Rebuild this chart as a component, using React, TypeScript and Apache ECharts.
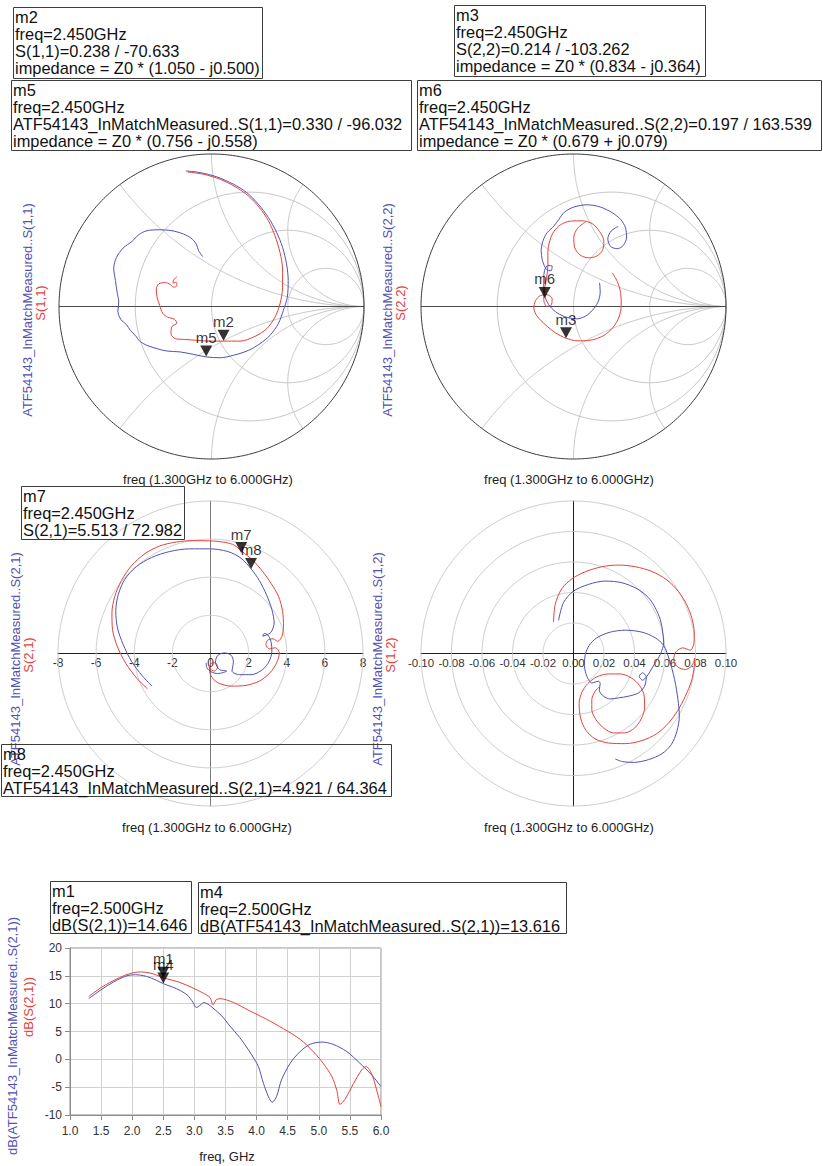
import React, { useEffect, useRef } from "react";
import * as echarts from "echarts";

type P = [number, number];

const FONT = "Liberation Sans, Arial, Helvetica, sans-serif";
const BLUE = "#5151b3";
const RED = "#e5423c";
const GRID_GRAY = "#c6c6c6";

// ---------- Smith chart 1: S(1,1), reflection coefficient (re, im) ----------
const s11Measured: P[] = [
  [-0.168, 0.889], [-0.074, 0.878], [0.035, 0.85], [0.144, 0.802], [0.231, 0.747], [0.307, 0.671],
  [0.373, 0.584], [0.427, 0.486], [0.466, 0.388], [0.492, 0.279], [0.503, 0.17], [0.497, 0.061],
  [0.471, -0.026], [0.438, -0.113], [0.383, -0.19], [0.318, -0.244], [0.242, -0.288], [0.144, -0.32],
  [0.057, -0.336], [-0.031, -0.331], [-0.118, -0.314], [-0.205, -0.298], [-0.292, -0.292], [-0.357, -0.277],
  [-0.423, -0.255], [-0.471, -0.227], [-0.499, -0.19], [-0.532, -0.157], [-0.558, -0.118], [-0.593, -0.087],
  [-0.614, -0.031], [-0.608, 0.028], [-0.619, 0.094], [-0.63, 0.17], [-0.641, 0.253], [-0.623, 0.322],
  [-0.58, 0.383], [-0.521, 0.427], [-0.477, 0.471], [-0.423, 0.497], [-0.346, 0.503], [-0.259, 0.497],
  [-0.183, 0.475], [-0.135, 0.449], [-0.1, 0.41], [-0.085, 0.366], [-0.057, 0.327],
];
const s11Simulated: P[] = [
  [-0.157, 0.882], [-0.052, 0.867], [0.057, 0.834], [0.155, 0.786], [0.242, 0.725], [0.314, 0.649],
  [0.373, 0.562], [0.416, 0.464], [0.449, 0.355], [0.466, 0.246], [0.466, 0.126], [0.449, 0.017],
  [0.416, -0.07], [0.362, -0.146], [0.285, -0.196], [0.187, -0.227], [0.078, -0.227], [-0.009, -0.227],
  [-0.096, -0.222], [-0.172, -0.216], [-0.237, -0.211], [-0.266, -0.179], [-0.259, -0.131], [-0.227, -0.109],
  [-0.244, -0.083], [-0.288, -0.07], [-0.32, -0.044], [-0.34, 0.007], [-0.357, 0.061], [-0.362, 0.115],
  [-0.346, 0.148], [-0.303, 0.157], [-0.27, 0.144], [-0.248, 0.126], [-0.227, 0.137], [-0.231, 0.159],
  [-0.253, 0.153], [-0.248, 0.174], [-0.227, 0.196],
];

// ---------- Smith chart 2: S(2,2) ----------
const s22Measured: P[] = [
  [0.171, 0.155], [0.175, 0.094], [0.16, 0.028], [0.123, -0.026], [0.079, -0.063], [0.024, -0.081],
  [-0.042, -0.072], [-0.107, -0.042], [-0.155, 0.002], [-0.184, 0.055], [-0.195, 0.116], [-0.195, 0.182],
  [-0.19, 0.236], [-0.168, 0.269], [-0.14, 0.265], [-0.147, 0.234], [-0.177, 0.243], [-0.204, 0.302],
  [-0.212, 0.368], [-0.199, 0.433], [-0.173, 0.484], [-0.129, 0.527], [-0.096, 0.571], [-0.059, 0.619],
  [0.002, 0.652], [0.09, 0.667], [0.177, 0.652], [0.254, 0.615], [0.309, 0.571], [0.341, 0.516],
  [0.348, 0.455], [0.326, 0.4], [0.287, 0.379], [0.243, 0.394], [0.225, 0.444], [0.247, 0.495], [0.293, 0.525],
];
const s22Simulated: P[] = [
  [0.254, 0.221], [0.287, 0.164], [0.309, 0.09], [0.313, 0.007], [0.298, -0.07], [0.26, -0.136],
  [0.199, -0.19], [0.112, -0.221], [0.024, -0.225], [-0.048, -0.208], [-0.118, -0.173], [-0.184, -0.12],
  [-0.239, -0.063], [-0.26, -0.011], [-0.249, 0.039], [-0.217, 0.072], [-0.173, 0.077], [-0.14, 0.05],
  [-0.147, 0.007], [-0.177, 0.002], [-0.195, 0.046], [-0.19, 0.116], [-0.177, 0.182], [-0.168, 0.269],
  [-0.168, 0.357], [-0.155, 0.433], [-0.129, 0.492], [-0.085, 0.536], [-0.02, 0.56], [0.057, 0.562],
  [0.123, 0.543], [0.171, 0.492], [0.199, 0.427], [0.19, 0.368], [0.151, 0.33], [0.096, 0.319],
  [0.042, 0.339], [0.007, 0.389], [0.002, 0.455], [0.028, 0.514], [0.079, 0.554],
];

// ---------- Polar: S(2,1) ----------
const s21Simulated: P[] = [
  [-3.31, -1.85], [-3.85, -1.32], [-4.44, -0.52], [-4.88, 0.35], [-5.14, 1.25], [-5.17, 2.13],
  [-5.02, 3.0], [-4.67, 3.83], [-4.15, 4.6], [-3.45, 5.23], [-2.67, 5.64], [-1.79, 5.85],
  [-0.92, 5.92], [-0.05, 5.91], [0.82, 5.82], [1.25, 5.68], [1.64, 5.36], [2.21, 4.9],
  [2.74, 4.3], [3.17, 3.69], [3.57, 3.0], [3.78, 2.21], [3.83, 1.43], [3.75, 0.91],
  [3.52, 0.64], [3.29, 0.77], [3.0, 0.7], [2.91, 0.47], [3.08, 0.24], [3.4, 0.3],
  [3.61, 0.03], [3.47, -0.49], [3.12, -1.01], [2.56, -1.45], [1.86, -1.67], [1.08, -1.71],
  [0.38, -1.53], [0.03, -1.18], [-0.05, -0.84], [0.03, -0.52], [0.24, -0.49], [0.38, -0.7],
  [0.21, -0.92], [0.02, -0.85], [-0.09, -0.63],
];
const s21Measured: P[] = [
  [-3.07, -1.71], [-3.57, -1.18], [-4.15, -0.4], [-4.58, 0.47], [-4.88, 1.34], [-4.97, 2.21],
  [-4.84, 3.08], [-4.49, 3.9], [-3.89, 4.56], [-3.1, 5.03], [-2.14, 5.35], [-1.1, 5.49],
  [-0.05, 5.49], [0.91, 5.35], [1.6, 5.0], [2.13, 4.44], [2.56, 3.83], [2.94, 3.08],
  [3.22, 2.3], [3.34, 1.6], [3.17, 1.11], [2.91, 0.96], [2.74, 0.91], [2.82, 1.05],
  [3.0, 0.98], [3.17, 0.64], [3.22, 0.12], [3.08, -0.4], [2.74, -0.84], [2.13, -1.11],
  [1.52, -1.11], [1.13, -0.92], [1.2, -0.45], [1.08, -0.09], [0.73, 0.03], [0.38, -0.1],
  [0.26, -0.45], [0.47, -0.84], [0.85, -0.92], [0.38, -1.05], [0.03, -0.96], [-0.19, -0.75], [-0.23, -0.49],
];

// ---------- Polar: S(1,2) ----------
const s12Simulated: P[] = [
  [-0.0131, 0.0206], [-0.012, 0.0322], [-0.0077, 0.0425], [-0.0007, 0.0492], [0.0077, 0.0536], [0.0186, 0.0569],
  [0.0295, 0.058], [0.0405, 0.0569], [0.0514, 0.0538], [0.0613, 0.0482], [0.0689, 0.0405], [0.0744, 0.0317],
  [0.0777, 0.0228], [0.0792, 0.0136], [0.0788, 0.0059], [0.0766, 0.0022], [0.0716, 0.0037], [0.0672, 0.0011],
  [0.0657, -0.0039], [0.0683, -0.0088], [0.0733, -0.0105], [0.0777, -0.0079], [0.0794, -0.0031], [0.0792, -0.0083],
  [0.0773, -0.0182], [0.0733, -0.028], [0.0685, -0.0372], [0.0624, -0.0455], [0.0547, -0.0525], [0.0449, -0.0571],
  [0.0339, -0.0591], [0.023, -0.0587], [0.0142, -0.056], [0.0081, -0.0503], [0.0046, -0.0422], [0.0037, -0.0328],
  [0.0055, -0.0254], [0.0094, -0.0197], [0.0153, -0.0153], [0.023, -0.0134], [0.0306, -0.0134], [0.0379, -0.016],
  [0.0433, -0.021], [0.0464, -0.028], [0.0466, -0.0357], [0.0444, -0.0429], [0.0401, -0.0488], [0.0335, -0.0521],
  [0.0263, -0.0521], [0.0197, -0.0488], [0.0147, -0.0433], [0.012, -0.0368], [0.012, -0.0302], [0.0142, -0.0247],
  [0.0169, -0.0219],
];
const s12Measured: P[] = [
  [-0.0098, 0.0217], [-0.0066, 0.0333], [0.0, 0.0409], [0.0098, 0.0453], [0.0208, 0.0475], [0.0317, 0.0464],
  [0.0416, 0.0425], [0.0492, 0.0366], [0.0536, 0.03], [0.0569, 0.0223], [0.0584, 0.0147], [0.0591, 0.007],
  [0.0569, -0.0007], [0.0536, -0.0061], [0.0503, -0.0116], [0.0482, -0.0149], [0.0453, -0.0175], [0.0431, -0.0149],
  [0.0453, -0.0127], [0.0477, -0.0153], [0.0466, -0.0214], [0.0427, -0.0258], [0.0361, -0.028], [0.0295, -0.0291],
  [0.0241, -0.0298], [0.0197, -0.028], [0.0169, -0.0241], [0.0175, -0.0197], [0.0164, -0.0182], [0.012, -0.0193],
  [0.0088, -0.0149], [0.0072, -0.0079], [0.0077, -0.0007], [0.0103, 0.0053], [0.0153, 0.0103], [0.0241, 0.014],
  [0.0339, 0.0153], [0.0449, 0.014], [0.0536, 0.0103], [0.0591, 0.0053], [0.0628, -0.0039], [0.0663, -0.0171],
  [0.0685, -0.0302], [0.0694, -0.0411], [0.0678, -0.051], [0.0641, -0.0598], [0.058, -0.0657], [0.0492, -0.0696],
  [0.0394, -0.0714], [0.0322, -0.0709], [0.0274, -0.0692],
];

// ---------- dB(S(2,1)) vs freq (GHz) ----------
const dbS21Simulated: P[] = [
  [1.3, 11.3], [1.4, 12.1], [1.5, 12.9], [1.64, 13.8], [1.8, 14.7], [1.96, 15.4], [2.13, 15.7], [2.29, 15.5],
  [2.4, 15.1], [2.5, 14.65], [2.77, 13.8], [2.98, 12.8], [3.14, 11.9], [3.25, 11.1], [3.3, 9.8], [3.35, 10.7],
  [3.41, 10.9], [3.63, 10.2], [3.89, 8.7], [4.16, 7.2], [4.43, 5.5], [4.7, 3.6], [4.91, 1.4], [5.07, -0.7],
  [5.21, -3.1], [5.29, -5.6], [5.34, -8.1], [5.42, -7.2], [5.56, -4.3], [5.69, -1.9], [5.76, -1.3], [5.85, -2.6],
  [5.93, -5.5], [6.0, -8.5],
];
const dbS21Measured: P[] = [
  [1.3, 10.9], [1.4, 11.7], [1.5, 12.5], [1.7, 13.9], [1.91, 15.0], [2.05, 15.2], [2.23, 14.9], [2.39, 14.2],
  [2.5, 13.6], [2.71, 12.7], [2.88, 11.6], [2.98, 10.2], [3.03, 9.3], [3.09, 9.7], [3.15, 10.2], [3.22, 9.9],
  [3.3, 9.2], [3.44, 7.8], [3.57, 6.0], [3.73, 3.9], [3.87, 1.7], [3.97, -0.1], [4.03, -1.3], [4.11, -4.3],
  [4.19, -6.7], [4.25, -7.7], [4.32, -6.7], [4.4, -3.7], [4.54, -0.7], [4.7, 1.4], [4.86, 2.7], [5.05, 3.1],
  [5.23, 2.7], [5.45, 1.4], [5.66, -0.7], [5.85, -2.8], [6.0, -4.9],
];

// ---------- markers (magnitude, angle in degrees) ----------
const smith1Markers = [{ name: "m2", mag: 0.238, ang: -70.633 }, { name: "m5", mag: 0.33, ang: -96.032 }];
const smith2Markers = [{ name: "m3", mag: 0.214, ang: -103.262 }, { name: "m6", mag: 0.197, ang: 163.539 }];
const polarMarkers = [{ name: "m7", mag: 5.513, ang: 72.982 }, { name: "m8", mag: 4.921, ang: 64.364 }];
const dbMarkers = [{ name: "m1", freq: 2.5, db: 14.646 }, { name: "m4", freq: 2.5, db: 13.616 }];

// Smith chart grid values
const smithResistances = [1 / 3, 1, 3];
const smithReactances = [0.5, 1, 2, -0.5, -1, -2];
const polar21Rings = [2, 4, 6, 8];
const polar12Rings = [0.02, 0.04, 0.06, 0.08, 0.1];

// marker readouts
const readoutM2 = ["m2", "freq=2.450GHz", "S(1,1)=0.238 / -70.633", "impedance = Z0 * (1.050 - j0.500)"];
const readoutM5 = ["m5", "freq=2.450GHz", "ATF54143_InMatchMeasured..S(1,1)=0.330 / -96.032", "impedance = Z0 * (0.756 - j0.558)"];
const readoutM3 = ["m3", "freq=2.450GHz", "S(2,2)=0.214 / -103.262", "impedance = Z0 * (0.834 - j0.364)"];
const readoutM6 = ["m6", "freq=2.450GHz", "ATF54143_InMatchMeasured..S(2,2)=0.197 / 163.539", "impedance = Z0 * (0.679 + j0.079)"];
const readoutM7 = ["m7", "freq=2.450GHz", "S(2,1)=5.513 / 72.982"];
const readoutM8 = ["m8", "freq=2.450GHz", "ATF54143_InMatchMeasured..S(2,1)=4.921 / 64.364"];
const readoutM1 = ["m1", "freq=2.500GHz", "dB(S(2,1))=14.646"];
const readoutM4 = ["m4", "freq=2.500GHz", "dB(ATF54143_InMatchMeasured..S(2,1))=13.616"];

const SWEEP = "freq (1.300GHz to 6.000GHz)";

const polarToXY = (mag: number, ang: number): P => [
  mag * Math.cos((ang * Math.PI) / 180),
  mag * Math.sin((ang * Math.PI) / 180),
];

function circlePts(cx: number, cy: number, r: number, n = 240): P[] {
  const pts: P[] = [];
  for (let i = 0; i <= n; i++) {
    const t = (2 * Math.PI * i) / n;
    pts.push([cx + r * Math.cos(t), cy + r * Math.sin(t)]);
  }
  return pts;
}

function gamma(r: number, x: number): P {
  const den = (r + 1) * (r + 1) + x * x;
  return [(r * r - 1 + x * x) / den, (2 * x) / den];
}

function reactanceArc(x: number, n = 200): P[] {
  const pts: P[] = [];
  for (let i = 0; i < n; i++) {
    const phi = (i / n) * (Math.PI / 2);
    pts.push(gamma(Math.tan(phi), x));
  }
  pts.push([1, 0]);
  return pts;
}

const PLOT = 305;

function buildOption() {
  const guide = (gi: number, data: P[], color: string, width = 1) => ({
    type: "line",
    xAxisIndex: gi,
    yAxisIndex: gi,
    data,
    symbol: "none",
    showSymbol: false,
    clip: false,
    silent: true,
    lineStyle: { color, width },
    z: 1,
  });
  const curve = (gi: number, data: P[], color: string) => ({
    type: "line",
    xAxisIndex: gi,
    yAxisIndex: gi,
    data,
    symbol: "none",
    showSymbol: false,
    smooth: 0.3,
    clip: false,
    silent: true,
    lineStyle: { color, width: 1 },
    z: 3,
  });
  const markers = (gi: number, pts: { name: string; value: P }[]) => [
    {
      type: "scatter",
      xAxisIndex: gi,
      yAxisIndex: gi,
      data: pts.map((p) => p.value),
      symbol: "triangle",
      symbolRotate: 180,
      symbolSize: [12, 11],
      symbolOffset: [0, -5.5],
      itemStyle: { color: "#000" },
      clip: false,
      silent: true,
      z: 10,
    },
    {
      type: "scatter",
      xAxisIndex: gi,
      yAxisIndex: gi,
      data: pts.map((p) => ({ name: p.name, value: p.value })),
      symbol: "circle",
      symbolSize: 1,
      itemStyle: { color: "rgba(0,0,0,0)" },
      label: {
        show: true,
        position: "top",
        distance: 11,
        formatter: "{b}",
        fontSize: 15,
        fontFamily: FONT,
        color: "#000",
      },
      clip: false,
      silent: true,
      z: 11,
    },
  ];

  const series: any[] = [];
  [0, 1].forEach((gi) => {
    smithResistances.forEach((r) => series.push(guide(gi, circlePts(r / (1 + r), 0, 1 / (1 + r)), GRID_GRAY)));
    smithReactances.forEach((x) => series.push(guide(gi, reactanceArc(x), GRID_GRAY)));
    series.push(guide(gi, [[-1, 0], [1, 0]], "#4a4a4a"));
    series.push(guide(gi, circlePts(0, 0, 1, 360), "#3a3a3a"));
  });
  polar21Rings.forEach((r) => series.push(guide(2, circlePts(0, 0, r), "#cdcdcd")));
  polar12Rings.forEach((r) => series.push(guide(3, circlePts(0, 0, r), "#cdcdcd")));

  series.push(curve(0, s11Measured, BLUE), curve(0, s11Simulated, RED));
  series.push(curve(1, s22Measured, BLUE), curve(1, s22Simulated, RED));
  series.push(curve(2, s21Simulated, RED), curve(2, s21Measured, BLUE));
  series.push(curve(3, s12Simulated, RED), curve(3, s12Measured, BLUE));
  series.push(curve(4, dbS21Measured, BLUE), curve(4, dbS21Simulated, RED));

  series.push(...markers(0, smith1Markers.map((m) => ({ name: m.name, value: polarToXY(m.mag, m.ang) }))));
  series.push(...markers(1, smith2Markers.map((m) => ({ name: m.name, value: polarToXY(m.mag, m.ang) }))));
  series.push(...markers(2, polarMarkers.map((m) => ({ name: m.name, value: polarToXY(m.mag, m.ang) }))));
  series.push(...markers(4, dbMarkers.map((m) => ({ name: m.name, value: [m.freq, m.db] as P }))));

  const hidden = (gi: number) => ({ gridIndex: gi, type: "value", min: -1, max: 1, show: false });
  const tickLabel = { fontSize: 12, color: "#333", fontFamily: FONT };

  const xAxis = [
    hidden(0),
    hidden(1),
    {
      gridIndex: 2, type: "value", min: -8, max: 8, interval: 2, position: "bottom", offset: -PLOT / 2,
      axisLine: { show: true, onZero: false, lineStyle: { color: "#1e1e1e", width: 1 } },
      axisTick: { show: false }, splitLine: { show: false },
      axisLabel: { ...tickLabel, margin: 3, showMinLabel: true, showMaxLabel: true },
    },
    {
      gridIndex: 3, type: "value", min: -0.1, max: 0.1, interval: 0.02, position: "bottom", offset: -PLOT / 2,
      axisLine: { show: true, onZero: false, lineStyle: { color: "#1e1e1e", width: 1 } },
      axisTick: { show: false }, splitLine: { show: false },
      axisLabel: {
        ...tickLabel, fontSize: 11.5, margin: 3, showMinLabel: true, showMaxLabel: true,
        formatter: (v: number) => (Math.abs(v) < 1e-9 ? "0.00" : v.toFixed(2)),
      },
    },
    {
      gridIndex: 4, type: "value", min: 1, max: 6, interval: 0.5,
      axisLine: { show: true, onZero: false, lineStyle: { color: "#8c8c8c" } },
      axisTick: { show: true, length: 5, lineStyle: { color: "#8c8c8c" } },
      splitLine: { show: true, lineStyle: { color: "#d0d0d0" } },
      axisLabel: { ...tickLabel, margin: 10, formatter: (v: number) => v.toFixed(1) },
    },
  ];
  const yAxis = [
    hidden(0),
    hidden(1),
    {
      gridIndex: 2, type: "value", min: -8, max: 8, interval: 2,
      axisLine: { show: true, onZero: true, lineStyle: { color: "#7a7a7a", width: 1 } },
      axisTick: { show: false }, axisLabel: { show: false }, splitLine: { show: false },
    },
    {
      gridIndex: 3, type: "value", min: -0.1, max: 0.1, interval: 0.02,
      axisLine: { show: true, onZero: true, lineStyle: { color: "#1e1e1e", width: 1 } },
      axisTick: { show: false }, axisLabel: { show: false }, splitLine: { show: false },
    },
    {
      gridIndex: 4, type: "value", min: -10, max: 20, interval: 5,
      axisLine: { show: true, onZero: false, lineStyle: { color: "#8c8c8c" } },
      axisTick: { show: true, length: 5, lineStyle: { color: "#8c8c8c" } },
      splitLine: { show: true, lineStyle: { color: "#d0d0d0" } },
      axisLabel: { ...tickLabel, margin: 8 },
    },
  ];

  const box = (x: number, y: number, w: number, h: number, lines: string[]) => [
    {
      type: "rect", silent: true, z: 20,
      shape: { x: x + 0.5, y: y + 0.5, width: w, height: h },
      style: { fill: "none", stroke: "#3c3c3c", lineWidth: 1 },
    },
    {
      type: "text", silent: true, z: 21, x: x + 2, y: y + 1,
      style: { text: lines.join("\n"), fontSize: 16.4, fontFamily: FONT, fill: "#111", lineHeight: 17, align: "left", verticalAlign: "top" },
    },
  ];
  const vlabel = (x: number, y: number, text: string, color: string) => ({
    type: "text", silent: true, z: 5, x, y, rotation: Math.PI / 2,
    style: { text, fontSize: 13, fontFamily: FONT, fill: color, align: "center", verticalAlign: "middle" },
  });
  const hlabel = (x: number, y: number, text: string) => ({
    type: "text", silent: true, z: 5, x, y,
    style: { text, fontSize: 13, fontFamily: FONT, fill: "#222", align: "center", verticalAlign: "middle" },
  });

  const graphic = [
    ...box(13, 7, 249, 71, readoutM2),
    ...box(11, 80, 400, 70, readoutM5),
    ...box(454, 5, 251, 71, readoutM3),
    ...box(417, 80, 404, 70, readoutM6),
    ...box(21, 486, 163, 53, readoutM7),
    ...box(1, 744, 390, 52, readoutM8),
    ...box(50, 881, 141, 52, readoutM1),
    ...box(198, 882, 368, 51, readoutM4),
    vlabel(27, 310, "ATF54143_InMatchMeasured..S(1,1)", BLUE),
    vlabel(40, 303, "S(1,1)", RED),
    vlabel(387, 310, "ATF54143_InMatchMeasured..S(2,2)", BLUE),
    vlabel(400, 303, "S(2,2)", RED),
    vlabel(15, 659, "ATF54143_InMatchMeasured..S(2,1)", BLUE),
    vlabel(28, 655, "S(2,1)", RED),
    vlabel(377, 659, "ATF54143_InMatchMeasured..S(1,2)", BLUE),
    vlabel(390, 655, "S(1,2)", RED),
    vlabel(12, 1036, "dB(ATF54143_InMatchMeasured..S(2,1))", BLUE),
    vlabel(28, 1007, "dB(S(2,1))", RED),
    hlabel(208, 479, SWEEP),
    hlabel(569, 479, SWEEP),
    hlabel(207, 827, SWEEP),
    hlabel(569, 827, SWEEP),
    hlabel(227, 1156, "freq, GHz"),
  ];

  return {
    animation: false,
    backgroundColor: "#ffffff",
    grid: [
      { left: 59, top: 154, width: PLOT, height: PLOT },
      { left: 421, top: 154, width: PLOT, height: PLOT },
      { left: 58, top: 501, width: PLOT, height: PLOT },
      { left: 421, top: 501, width: PLOT, height: PLOT },
      { left: 70, top: 948, width: 311, height: 167, show: true, borderColor: "#8c8c8c", borderWidth: 1 },
    ],
    xAxis,
    yAxis,
    series,
    graphic,
  };
}

export default function App() {
  const ref = useRef<HTMLDivElement>(null);
  useEffect(() => {
    if (!ref.current) return;
    const chart = echarts.init(ref.current, null, { renderer: "svg" });
    chart.setOption(buildOption() as any);
    return () => chart.dispose();
  }, []);
  return (
    <div
      ref={ref}
      style={{ position: "absolute", left: 0, top: 0, width: 823, height: 1166, background: "#fff" }}
    />
  );
}
